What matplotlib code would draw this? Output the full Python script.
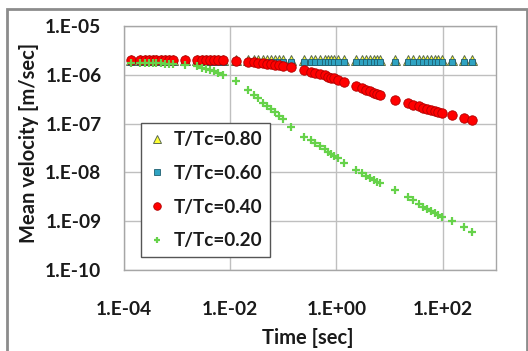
import matplotlib
matplotlib.use("Agg")
import matplotlib.pyplot as plt
from matplotlib.patches import Rectangle
from matplotlib.ticker import FixedLocator, FixedFormatter, NullLocator

# ---- data ----
times = [1.4e-4, 2.0e-4, 2.5e-4, 3.0e-4, 3.5e-4, 4.0e-4, 5.0e-4, 6.0e-4, 7.0e-4, 8.5e-4,
         1.4e-3, 2.4e-3, 3.0e-3, 3.6e-3, 4.2e-3, 5.0e-3, 6.0e-3, 7.5e-3,
         1.3e-2, 2.2e-2, 2.8e-2, 3.4e-2, 4.2e-2, 5.0e-2, 6.0e-2, 7.0e-2, 8.5e-2, 1.0e-1,
         1.4e-1, 2.5e-1, 3.3e-1, 4.0e-1, 5.0e-1, 6.0e-1, 7.0e-1, 8.0e-1, 9.0e-1, 1.05,
         1.4, 2.3, 3.0, 3.6, 4.3, 5.0, 5.8, 6.6,
         12.6, 22, 28, 35, 42, 50, 60, 70, 80, 95,
         150, 250, 360]

v_080 = [2.05e-6, 2.05e-6, 2.05e-6, 2.05e-6, 2.05e-6, 2.05e-6, 2.05e-6, 2.05e-6, 2.05e-6, 2.05e-6,
         2.05e-6, 2.05e-6, 2.05e-6, 2.05e-6, 2.05e-6, 2.05e-6, 2.05e-6, 2.05e-6,
         2.05e-6, 2.05e-6, 2.05e-6, 2.05e-6, 2.05e-6, 2.05e-6, 2.05e-6, 2.05e-6, 2.05e-6, 2.05e-6,
         2.05e-6, 2.05e-6, 2.05e-6, 2.05e-6, 2.05e-6, 2.05e-6, 2.05e-6, 2.05e-6, 2.05e-6, 2.05e-6,
         2.05e-6, 2.05e-6, 2.05e-6, 2.05e-6, 2.05e-6, 2.05e-6, 2.05e-6, 2.05e-6,
         2.05e-6, 2.05e-6, 2.05e-6, 2.05e-6, 2.05e-6, 2.05e-6, 2.05e-6, 2.05e-6, 2.05e-6, 2.05e-6,
         2.05e-6, 2.05e-6, 2.05e-6]

v_060 = [1.82e-6, 1.82e-6, 1.82e-6, 1.82e-6, 1.82e-6, 1.82e-6, 1.82e-6, 1.82e-6, 1.82e-6, 1.82e-6,
         1.82e-6, 1.82e-6, 1.82e-6, 1.82e-6, 1.82e-6, 1.82e-6, 1.82e-6, 1.82e-6,
         1.82e-6, 1.82e-6, 1.82e-6, 1.82e-6, 1.82e-6, 1.82e-6, 1.82e-6, 1.82e-6, 1.82e-6, 1.82e-6,
         1.82e-6, 1.82e-6, 1.82e-6, 1.82e-6, 1.82e-6, 1.82e-6, 1.82e-6, 1.82e-6, 1.82e-6, 1.82e-6,
         1.82e-6, 1.82e-6, 1.82e-6, 1.82e-6, 1.82e-6, 1.82e-6, 1.82e-6, 1.82e-6,
         1.82e-6, 1.82e-6, 1.82e-6, 1.82e-6, 1.82e-6, 1.82e-6, 1.82e-6, 1.82e-6, 1.82e-6, 1.82e-6,
         1.82e-6, 1.82e-6, 1.82e-6]

v_040 = [2.0e-6, 2.0e-6, 2.0e-6, 2.0e-6, 2.0e-6, 2.0e-6, 2.0e-6, 2.0e-6, 2.0e-6, 2.0e-6,
         2.0e-6, 2.0e-6, 2.0e-6, 2.0e-6, 2.0e-6, 2.0e-6, 2.0e-6, 1.98e-6,
         1.95e-6, 1.85e-6, 1.80e-6, 1.76e-6, 1.72e-6, 1.68e-6, 1.64e-6, 1.60e-6, 1.56e-6, 1.52e-6,
         1.45e-6, 1.26e-6, 1.15e-6, 1.08e-6, 1.02e-6, 9.7e-7, 9.2e-7, 8.8e-7, 8.4e-7, 8.0e-7,
         7.0e-7, 5.8e-7, 5.3e-7, 4.9e-7, 4.6e-7, 4.3e-7, 4.0e-7, 3.8e-7,
         3.0e-7, 2.6e-7, 2.4e-7, 2.25e-7, 2.1e-7, 2.0e-7, 1.9e-7, 1.8e-7, 1.72e-7, 1.65e-7,
         1.5e-7, 1.32e-7, 1.18e-7]

v_020 = [1.75e-6, 1.75e-6, 1.74e-6, 1.74e-6, 1.73e-6, 1.72e-6, 1.71e-6, 1.70e-6, 1.69e-6, 1.67e-6,
         1.60e-6, 1.48e-6, 1.40e-6, 1.33e-6, 1.26e-6, 1.18e-6, 1.10e-6, 1.00e-6,
         7.4e-7, 4.9e-7, 3.9e-7, 3.3e-7, 2.7e-7, 2.3e-7, 1.95e-7, 1.7e-7, 1.45e-7, 1.25e-7,
         8.5e-8, 5.4e-8, 4.6e-8, 4.0e-8, 3.4e-8, 3.0e-8, 2.65e-8, 2.4e-8, 2.2e-8, 2.0e-8,
         1.55e-8, 1.12e-8, 9.5e-9, 8.5e-9, 7.6e-9, 6.9e-9, 6.4e-9, 6.0e-9,
         4.4e-9, 3.2e-9, 2.7e-9, 2.3e-9, 2.0e-9, 1.8e-9, 1.6e-9, 1.45e-9, 1.33e-9, 1.2e-9,
         1.0e-9, 7.6e-10, 6.0e-10]

labels = ["T/Tc=0.80", "T/Tc=0.60", "T/Tc=0.40", "T/Tc=0.20"]
x_ticks = [1e-4, 1e-2, 1e0, 1e2]
x_ticklabels = ["1.E-04", "1.E-02", "1.E+00", "1.E+02"]
y_ticks = [1e-10, 1e-9, 1e-8, 1e-7, 1e-6, 1e-5]
y_ticklabels = ["1.E-10", "1.E-09", "1.E-08", "1.E-07", "1.E-06", "1.E-05"]

# ---- figure ----
plt.rcParams['font.family'] = ['Lato', 'DejaVu Sans']
plt.rcParams['font.weight'] = 'bold'

fig = plt.figure(figsize=(5.28, 3.51), dpi=100)
ax = fig.add_axes([123.6/528, 1-270/351, (496-123.6)/528, (270-26)/351])

ax.set_xscale('log')
ax.set_yscale('log')
ax.set_xlim(1e-4, 1e3)
ax.set_ylim(1e-10, 1e-5)

ax.plot(times, v_080, linestyle='none', marker='^', ms=6.5, mfc='#FFFF33', mec='#5a6a50', mew=0.7, label=labels[0])
ax.plot(times, v_060, linestyle='none', marker='s', ms=4.8, mfc='#2FA3C2', mec='#1f5f70', mew=0.6, label=labels[1])
ax.plot(times, v_040, linestyle='none', marker='o', ms=6.8, mfc='#FF0000', mec='#B00000', mew=0.6, label=labels[2])
ax.plot(times, v_020, linestyle='none', marker='+', ms=6, mec='#66D24A', mew=1.6, label=labels[3])

ax.xaxis.set_major_locator(FixedLocator(x_ticks))
ax.xaxis.set_major_formatter(FixedFormatter(x_ticklabels))
ax.xaxis.set_minor_locator(NullLocator())
ax.yaxis.set_major_locator(FixedLocator(y_ticks))
ax.yaxis.set_major_formatter(FixedFormatter(y_ticklabels))
ax.yaxis.set_minor_locator(NullLocator())

ax.grid(True, which='major', color='#BFBFBF', linewidth=1.0)
ax.set_axisbelow(True)
for s in ax.spines.values():
    s.set_color('#A6A6A6')
    s.set_linewidth(1.0)

ax.tick_params(axis='x', length=0, pad=22, labelsize=13.8, labelcolor='#1a1a1a')
ax.tick_params(axis='y', length=0, pad=16, labelsize=13.8, labelcolor='#1a1a1a')

ax.set_xlabel("Time [sec]", fontsize=14.5, fontweight='bold', color='#1a1a1a')
ax.set_ylabel("Mean velocity [m/sec]", fontsize=14.5, fontweight='bold', color='#1a1a1a')
ax.xaxis.set_label_coords((308-123.6)/372.4, (270-338)/244)
ax.xaxis.label.set_va('center')
ax.yaxis.set_label_coords((28.6-123.6)/372.4, (270-143)/244)
ax.yaxis.label.set_va('center')

leg = ax.legend(loc='lower left', bbox_to_anchor=(0.047, 0.053), borderaxespad=0,
                fontsize=13.6, markerscale=0.8, handlelength=0.8, handletextpad=0.5,
                labelspacing=0.88, borderpad=0.42, fancybox=False, framealpha=1,
                edgecolor='#555555')
leg.get_frame().set_linewidth(1.0)
for t in leg.get_texts():
    t.set_color('#1a1a1a')

# outer chart frame
fig.patches.append(Rectangle((7/528, -0.05), (527-7)/528, 1.05-9/351,
                             transform=fig.transFigure, fill=False,
                             edgecolor='#8C8C8C', linewidth=2))

fig.savefig("out.png", dpi=100)
